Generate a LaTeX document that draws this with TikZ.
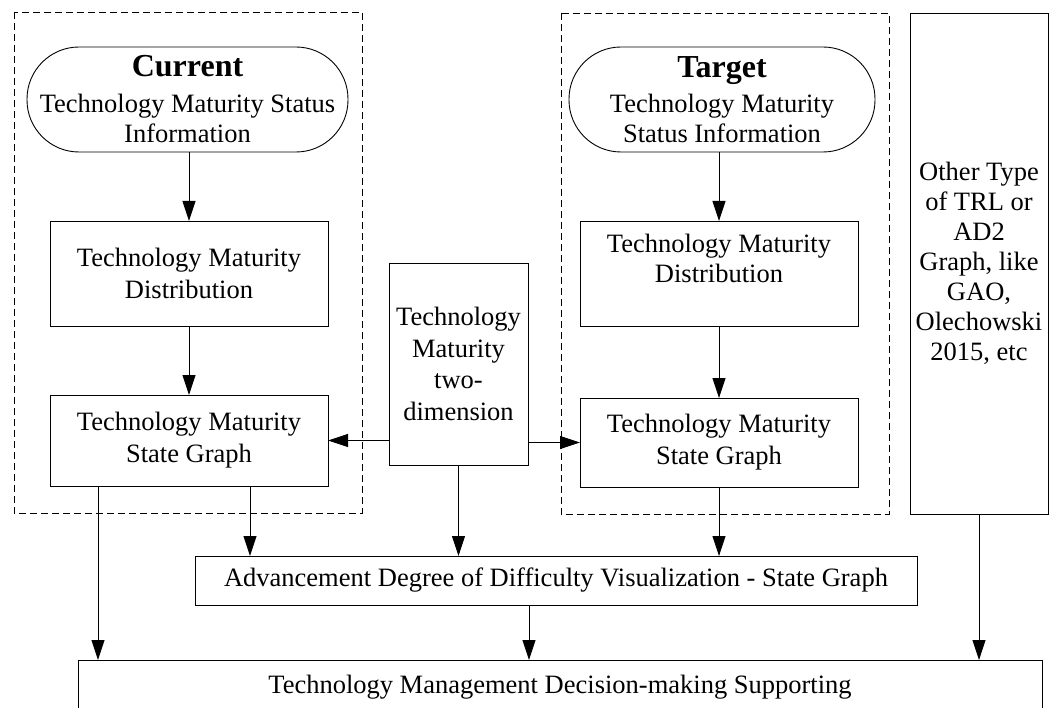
\documentclass[tikz,border=0pt]{standalone}
\usepackage{fontspec}
\setmainfont{Liberation Serif}
\usetikzlibrary{arrows.meta}
\tikzset{
  base/.style={draw, line width=0.9pt, inner sep=0pt, outer sep=0pt, align=center,
    font=\fontsize{26.5}{32}\selectfont},
  box/.style={base, rectangle},
  pill/.style={base, rounded corners=52pt, font=\fontsize{26.5}{30}\selectfont},
  arr/.style={line width=0.9pt, -{Triangle[length=20pt,width=13pt]}},
  groupbox/.style={draw, line width=0.9pt, dash pattern=on 7pt off 4pt}
}
\newcommand{\leadfont}{\fontsize{32}{36}\selectfont\bfseries}
\begin{document}
\begin{tikzpicture}[x=1pt,y=-1pt]
\useasboundingbox (0,0) rectangle (1051,708);
\clip (0,0) rectangle (1051,708);

% dashed group frames
\draw[groupbox] (14,12) rectangle (362,513);
\draw[groupbox] (561,13) rectangle (889,514);

% current state column
\node[pill, minimum width=321pt, minimum height=105pt] (cpill) at (187.5,99.5)
  {{\leadfont Current}\\[6pt]Technology Maturity Status\\Information};
\node[box, minimum width=278pt, minimum height=105pt] (cdist) at (189,273.5)
  {Technology Maturity\\Distribution};
\node[box, minimum width=278pt, minimum height=91pt] (cstate) at (189,440.5)
  {Technology Maturity\\State Graph};

% target state column
\node[pill, minimum width=306pt, minimum height=105pt] (tpill) at (722,99.5)
  {{\leadfont Target}\\[5pt]Technology Maturity\\Status Information};
\node[box, minimum width=278pt, minimum height=105pt, font=\fontsize{26.5}{30}\selectfont] (tdist) at (719,273.5)
  {Technology Maturity\\Distribution\\\mbox{}};
\node[box, minimum width=278pt, minimum height=89pt] (tstate) at (719,442.5)
  {Technology Maturity\\State Graph};

% two-dimension box in the middle
\node[box, minimum width=139pt, minimum height=202pt, font=\fontsize{26.5}{31.5}\selectfont] (twodim) at (458.5,364)
  {Technology\\Maturity\\two-\\dimension};

% other graphs
\node[box, minimum width=138pt, minimum height=501pt, font=\fontsize{26.5}{30}\selectfont] (other) at (979,263.5)
  {Other Type\\of TRL or\\AD2\\Graph, like\\GAO,\\Olechowski\\2015, etc};

% visualization and decision support
\node[box, minimum width=722pt, minimum height=49pt] (adv) at (556,580.5)
  {Advancement Degree of Difficulty Visualization - State Graph};
\node[box, minimum width=964pt, minimum height=55pt] (dec) at (560,687.5)
  {Technology Management Decision-making Supporting};

% connectors
\draw[arr] (cdist.north |- cpill.south) -- (cdist.north);
\draw[arr] (cdist.south) -- (cstate.north);
\draw[arr] (tdist.north |- tpill.south) -- (tdist.north);
\draw[arr] (tdist.south) -- (tstate.north);
\draw[arr] (twodim.west |- cstate.east) -- (cstate.east);
\draw[arr] (twodim.east |- tstate.west) -- (tstate.west);
\draw[arr] ([xshift=61pt]cstate.south) -- ([xshift=61pt]cstate.south |- adv.north);
\draw[arr] ([xshift=-91pt]cstate.south) -- ([xshift=-91pt]cstate.south |- dec.north);
\draw[arr] (twodim.south) -- (twodim.south |- adv.north);
\draw[arr] (tstate.south) -- (tstate.south |- adv.north);
\draw[arr] ([xshift=-27pt]adv.south) -- ([xshift=-27pt]adv.south |- dec.north);
\draw[arr] (other.south) -- (other.south |- dec.north);
\end{tikzpicture}
\end{document}
